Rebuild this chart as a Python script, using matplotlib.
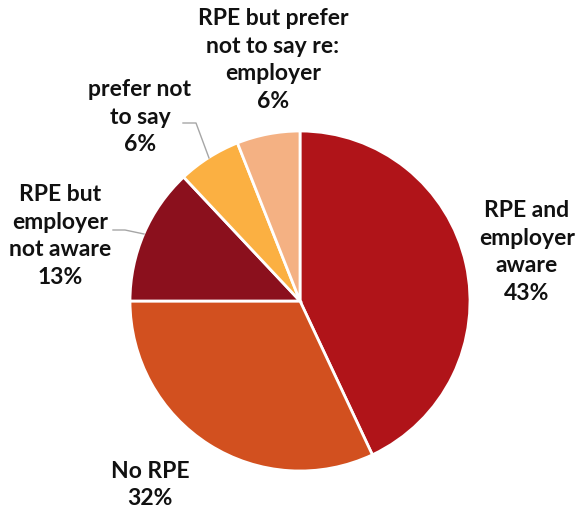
import matplotlib.pyplot as plt

# share of respondents by RPE status
labels = ['RPE and\nemployer\naware', 'No RPE', 'RPE but\nemployer\nnot aware',
          'prefer not\nto say', 'RPE but prefer\nnot to say re:\nemployer']
values = [43, 32, 13, 6, 6]
colors = ['#B01419', '#D2501F', '#8B101D', '#FBB042', '#F4B183']

W, H = 582, 513
fig = plt.figure(figsize=(W / 100, H / 100), dpi=100)
ax = fig.add_axes([0, 0, 1, 1])

cx, cy, r = 300, H - 301, 170
ax.pie(values, colors=colors, startangle=90, counterclock=False,
       center=(cx, cy), radius=r, frame=True,
       wedgeprops=dict(edgecolor='white', linewidth=2))
ax.set_xlim(0, W)
ax.set_ylim(0, H)
ax.set_aspect('equal')
ax.axis('off')

# label placement (pixel coords, y from top)
label_pos = [(527, 252), (150, 485), (60, 236), (140, 117), (273, 60)]
for lab, v, (x, y) in zip(labels, values, label_pos):
    ax.text(x, H - y, f'{lab}\n{v}%', ha='center', va='center',
            fontsize=16.5, fontweight='bold', family='Lato',
            linespacing=1.4, color='#111111')

# leader lines for the small slices
lines = [[(183, 123), (196, 123), (209, 158)],
         [(113, 230), (125, 230), (144, 234)]]
for pts in lines:
    xs = [p[0] for p in pts]
    ys = [H - p[1] for p in pts]
    ax.plot(xs, ys, color='#A6A6A6', linewidth=1)

fig.savefig('out.png', dpi=100)
